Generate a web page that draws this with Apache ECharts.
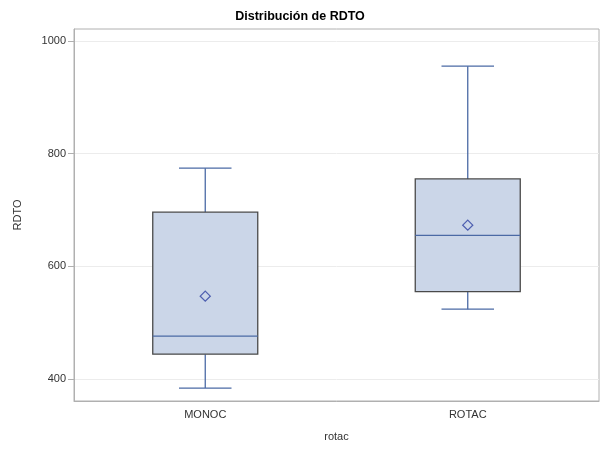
<!DOCTYPE html>
<html><head><meta charset="utf-8">
<script src="https://cdn.jsdelivr.net/npm/echarts@6/dist/echarts.min.js"></script>
<style>html,body{margin:0;padding:0;background:#fff}#c{width:600px;height:451px}</style>
</head><body><div id="c"></div>
<script>
const categories = ['MONOC', 'ROTAC'];
// [whiskerLow, Q1, median, Q3, whiskerHigh]
const boxValues = [
  [384, 444, 476, 696, 774],
  [524, 555, 655, 755, 955]
];
const meanValues = [547, 673];
const yTicks = [400, 600, 800, 1000];

const chart = echarts.init(document.getElementById('c'));
const font = 'Arial, "Liberation Sans", sans-serif';
const data = boxValues.map((v, i) => [i].concat(v).concat([meanValues[i]]));

chart.setOption({
  animation: false,
  title: {
    text: 'Distribución de RDTO', left: 'center', top: 5,
    textStyle: {fontFamily: font, fontSize: 12.5, fontWeight: 'bold', color: '#000'}
  },
  grid: {left: 74, right: 1, top: 29, bottom: 50, show: true, borderColor: '#b0b0b0', borderWidth: 1},
  xAxis: {
    type: 'category', data: categories,
    name: 'rotac', nameLocation: 'middle', nameGap: 30,
    nameTextStyle: {fontFamily: font, fontSize: 11, color: '#333'},
    axisLine: {lineStyle: {color: '#b0b0b0'}},
    axisTick: {alignWithLabel: true, length: 5, lineStyle: {color: '#b0b0b0'}},
    axisLabel: {fontFamily: font, fontSize: 11, color: '#333', margin: 8},
    splitLine: {show: false}
  },
  yAxis: {
    type: 'value', min: 361, max: 1021,
    name: 'RDTO', nameLocation: 'middle', nameGap: 51,
    nameTextStyle: {fontFamily: font, fontSize: 11, color: '#333'},
    axisLine: {show: true, lineStyle: {color: '#b0b0b0'}},
    axisTick: {show: true, length: 6, customValues: yTicks, lineStyle: {color: '#b0b0b0'}},
    axisLabel: {fontFamily: font, fontSize: 11, color: '#333', margin: 8, customValues: yTicks,
      formatter: v => String(v)},
    splitLine: {show: true, lineStyle: {color: '#ececec'}}
  },
  series: [{
    type: 'custom',
    data: data,
    encode: {x: 0, y: [1, 2, 3, 4, 5, 6]},
    renderItem: function (params, api) {
      const idx = api.value(0);
      const c = api.coord([idx, api.value(3)]);
      const cx = c[0];
      const band = api.size([1, 0])[0];
      const hw = band * 0.2;
      const cw = band * 0.1;
      const y = k => api.coord([idx, api.value(k)])[1];
      const yLo = y(1), yQ1 = y(2), yMed = y(3), yQ3 = y(4), yHi = y(5), yMean = y(6);
      const blue = '#4b6aa5';
      const ds = 5;
      return {
        type: 'group',
        children: [
          {type: 'line', shape: {x1: cx, y1: yQ3, x2: cx, y2: yHi}, style: {stroke: blue, lineWidth: 1.3}},
          {type: 'line', shape: {x1: cx - cw, y1: yHi, x2: cx + cw, y2: yHi}, style: {stroke: blue, lineWidth: 1.3}},
          {type: 'line', shape: {x1: cx, y1: yQ1, x2: cx, y2: yLo}, style: {stroke: blue, lineWidth: 1.3}},
          {type: 'line', shape: {x1: cx - cw, y1: yLo, x2: cx + cw, y2: yLo}, style: {stroke: blue, lineWidth: 1.3}},
          {type: 'rect', shape: {x: cx - hw, y: yQ3, width: 2 * hw, height: yQ1 - yQ3},
            style: {fill: '#cbd6e8', stroke: '#4a4a4a', lineWidth: 1.3}},
          {type: 'line', shape: {x1: cx - hw, y1: yMed, x2: cx + hw, y2: yMed}, style: {stroke: blue, lineWidth: 1.3}},
          {type: 'polygon', shape: {points: [[cx, yMean - ds], [cx + ds, yMean], [cx, yMean + ds], [cx - ds, yMean]]},
            style: {fill: 'none', stroke: '#4e5fb0', lineWidth: 1.3}}
        ]
      };
    }
  }]
});
</script></body></html>
